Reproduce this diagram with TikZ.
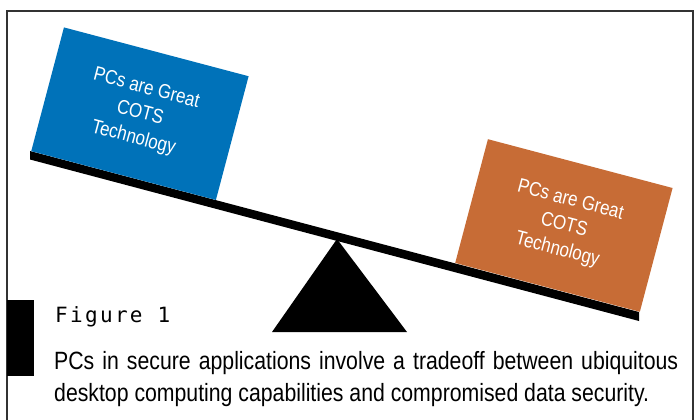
\documentclass[tikz,border=0pt]{standalone}
\usepackage{fontspec}
\setmainfont{Liberation Sans}
\newfontfamily\capfont[FakeStretch=0.85]{Liberation Sans}
\newfontfamily\cratefont[FakeStretch=0.85]{Liberation Sans}
\newfontfamily\figfont[LetterSpace=11]{DejaVu Sans Mono}
\definecolor{pcblue}{RGB}{0,114,185}
\definecolor{pcorange}{RGB}{199,108,54}
\definecolor{framegray}{RGB}{51,51,51}
\tikzset{
  crate/.style={rectangle, minimum width=191pt, minimum height=128pt,
    inner sep=0pt, rotate=-14.81, text=white, align=center,
    font=\cratefont\fontsize{20}{25.5}\selectfont},
  frameline/.style={draw=framegray, line width=1.5pt},
}
\begin{document}
\begin{tikzpicture}[x=1pt,y=-1pt]
\useasboundingbox (0,0) rectangle (697,420);
% outer frame, open at the bottom edge
\begin{scope}
  \clip (0,0) rectangle (697,420);
  \draw[frameline] (7,440) -- (7,11) -- (693,11) -- (693,440);
\end{scope}
% tilted beam of the balance
\coordinate (beamL) at (30,151);
\coordinate (beamR) at (639,312);
\fill[black] (beamL) -- (beamR) -- (639,321) -- (30,159.5) -- cycle;
% fulcrum
\coordinate (apex) at (337,239);
\fill[black] (apex) -- (407,332) -- (272,332) -- cycle;
% the two loads
\node[crate, fill=pcblue, anchor=south west] (left) at (31,151.3)
  {PCs are Great\\COTS\\Technology};
\node[crate, fill=pcorange, anchor=south east] (right) at (640,312)
  {PCs are Great\\COTS\\Technology};
% caption marker and caption
\fill[black] (7,300) rectangle (34,376);
\node[anchor=base west, inner sep=0pt,
  font=\figfont\fontsize{21}{22}\selectfont] (fig) at (55,322) {Figure 1};
\node[anchor=base west, inner sep=0pt, text width=624pt, align=justify,
  font=\capfont\fontsize{25}{32}\selectfont] (cap) at (54,369)
  {PCs in secure applications involve a tradeoff between ubiquitous\linebreak
   desktop computing capabilities and compromised data security.};
\end{tikzpicture}
\end{document}
